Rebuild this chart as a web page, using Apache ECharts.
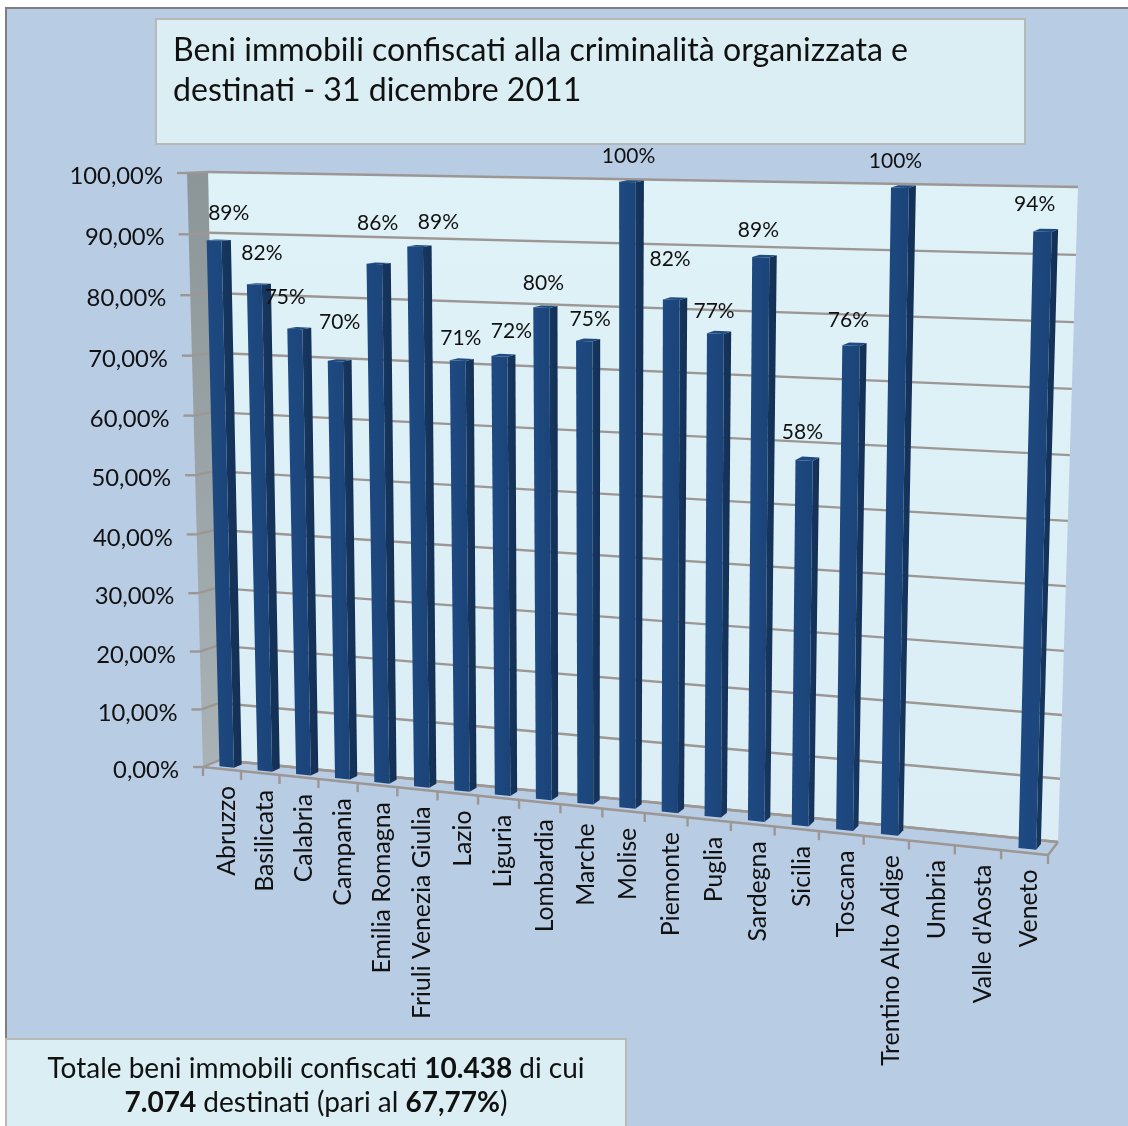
<!DOCTYPE html>
<html><head><meta charset="utf-8">
<script src="https://cdn.jsdelivr.net/npm/echarts@6/dist/echarts.min.js"></script>
<style>html,body{margin:0;padding:0;background:#fff}#c{width:1128px;height:1126px}</style>
</head><body><div id="c"></div>
<script>
const categories = ["Abruzzo","Basilicata","Calabria","Campania","Emilia Romagna","Friuli Venezia Giulia","Lazio","Liguria","Lombardia","Marche","Molise","Piemonte","Puglia","Sardegna","Sicilia","Toscana","Trentino Alto Adige","Umbria","Valle d'Aosta","Veneto"];
const destinati = [89,82,75,70,86,89,71,72,80,75,100,82,77,89,58,76,100,null,null,94];
const yTicks = [0,10,20,30,40,50,60,70,80,90,100];
const yLabels = ["0,00%","10,00%","20,00%","30,00%","40,00%","50,00%","60,00%","70,00%","80,00%","90,00%","100,00%"];
const titleText = "Beni immobili confiscati alla criminalità organizzata e\ndestinati - 31 dicembre 2011";
const noteText = "Totale beni immobili confiscati {b|10.438} di cui\n{b|7.074} destinati (pari al {b|67,77%})";

// hand-placed data-label offsets of the original (dx, dy from the bar top)
const labelNudge = [[10,-27],[3,-31],[-14,-31],[0,-38],[-1,-40],[19,-24],[-1,-21],[8,-24],[-2,-23],[2,-21],[-3,-25],[-5,-39],[-5,-21],[-6,-26],[-5,-27],[-6,-24],[-8,-25],[0,0],[0,0],[-11,-26]];

// perspective frame of the 3-D chart
const BACK  = [[208,172],[1078,187],[1058,842],[220,760]];
const FRONT = [[187,173],[1064,193],[1048,855],[203,767]];
function makeH(q){
  const [x0,y0]=q[0],[x1,y1]=q[1],[x2,y2]=q[2],[x3,y3]=q[3];
  const dx1=x1-x2,dx2=x3-x2,sx=x0-x1+x2-x3,dy1=y1-y2,dy2=y3-y2,sy=y0-y1+y2-y3;
  const den=dx1*dy2-dx2*dy1,g=(sx*dy2-dx2*sy)/den,h=(dx1*sy-sx*dy1)/den;
  return {a:x1-x0+g*x1,b:x3-x0+h*x3,c:x0,d:y1-y0+g*y1,e:y3-y0+h*y3,f:y0,g,h};
}
const HB=makeH(BACK),HF=makeH(FRONT);
function ap(H,s,t){const w=H.g*s+H.h*t+1;return [(H.a*s+H.b*t+H.c)/w,(H.d*s+H.e*t+H.f)/w];}
function P(s,t,depth){const a=ap(HB,s,t),b=ap(HF,s,t);return [a[0]+(b[0]-a[0])*depth,a[1]+(b[1]-a[1])*depth];}
function norm(params,pt){const r=params.coordSys;return [(pt[0]-r.x)/r.width,(pt[1]-r.y)/r.height];}

const LINE='#9c9794', FONT='Lato, "Open Sans", sans-serif';
const poly=(pts,fill,z)=>({type:'polygon',z2:z||0,shape:{points:pts},style:{fill}});
const line=(a,b,color,w,z)=>({type:'line',z2:z||0,shape:{x1:a[0],y1:a[1],x2:b[0],y2:b[1]},style:{stroke:color||LINE,lineWidth:w||2.4}});

function renderWall(params){
  return {type:'group',children:[
    poly(BACK,{type:'linear',x:0,y:0,x2:0,y2:1,colorStops:[{offset:0,color:'#dff2f8'},{offset:1,color:'#dceef5'}]}),
    poly([FRONT[0],BACK[0],BACK[3],FRONT[3]],{type:'linear',x:0,y:0,x2:0,y2:1,colorStops:[{offset:0,color:'#8c9699'},{offset:1,color:'#a9b3b6'}]}),
    line(BACK[3],BACK[2]),line(FRONT[3],FRONT[2]),line(FRONT[2],BACK[2])
  ]};
}
function renderGrid(params,api){
  const c=norm(params,api.coord([0,api.value(0)])),t=c[1];
  const i=params.dataIndex;
  const fl=P(0,t,1),bl=P(0,t,0),br=P(1,t,0);
  return {type:'group',children:[
    line(bl,br),line(fl,bl),line([fl[0]-10,fl[1]],fl),
    {type:'text',x:fl[0]-24,y:fl[1]+3.5,style:{text:yLabels[i],align:'right',verticalAlign:'middle',font:'23.8px '+FONT,fill:'#111'}}
  ]};
}
function renderTicks(params,api){
  const i=api.value(0),c=norm(params,api.coord([i,0])),bw=api.size([1,0])[0]/params.coordSys.width;
  const a=P(c[0]-bw/2,1,1);
  const kids=[line(a,[a[0],a[1]+9])];
  if(i===categories.length-1){const e=P(c[0]+bw/2,1,1);kids.push(line(e,[e[0],e[1]+9]));}
  const m=P(c[0],1,1);
  kids.push({type:'text',x:m[0]+5,y:m[1]+17,rotation:Math.PI/2,style:{text:categories[i],align:'right',verticalAlign:'middle',font:'24.8px '+FONT,fill:'#111'}});
  return {type:'group',children:kids};
}
const BAR_FRAC=0.38,D_FRONT=0.72,D_BACK=0.26;
function renderBar(params,api){
  const v=api.value(1); if(v==null||isNaN(v))return null;
  const i=api.value(0),c=norm(params,api.coord([i,v])),c0=norm(params,api.coord([i,0]));
  const bw=api.size([1,0])[0]/params.coordSys.width*BAR_FRAC;
  const s0=c[0]-bw/2,s1=c[0]+bw/2,t=c[1],b=c0[1];
  const ftl=P(s0,t,D_FRONT),ftr=P(s1,t,D_FRONT),fbr=P(s1,b,D_FRONT),fbl=P(s0,b,D_FRONT);
  const btr=P(s1,t,D_BACK),bbr=P(s1,b,D_BACK),btl=P(s0,t,D_BACK);
  const n=labelNudge[i],tc=[(ftl[0]+btr[0])/2,(ftl[1]+btr[1])/2];
  return {type:'group',children:[
    poly([ftr,btr,bbr,fbr],{type:'linear',x:0,y:0,x2:1,y2:0,colorStops:[{offset:0,color:'#17375f'},{offset:1,color:'#132f54'}]}),
    poly([ftl,ftr,fbr,fbl],{type:'linear',x:0,y:0,x2:1,y2:0,colorStops:[{offset:0,color:'#1e4a82'},{offset:1,color:'#1b4478'}]}),
    poly([ftl,ftr,btr,btl],'#1f4b82'),
    {type:'text',z2:10,x:tc[0]+n[0],y:tc[1]+n[1],style:{text:v+'%',align:'center',verticalAlign:'middle',font:'21px '+FONT,fill:'#111'}}
  ]};
}

const chart=echarts.init(document.getElementById('c'),null,{renderer:'canvas'});
chart.setOption({
  animation:false,
  backgroundColor:'#ffffff',
  title:[
    {text:titleText,left:173,top:31,textStyle:{fontFamily:'Lato',fontWeight:'normal',fontSize:32.1,lineHeight:40,color:'#111'},padding:0},
    {text:noteText,left:316,top:1052,textAlign:'center',textStyle:{fontFamily:'Lato',fontWeight:'normal',fontSize:28,lineHeight:34,color:'#111',
      rich:{b:{fontFamily:'Lato',fontWeight:'bold',fontSize:28,lineHeight:34,color:'#111'}}},padding:0}
  ],
  graphic:[
    {type:'rect',z:-10,shape:{x:6,y:8,width:1130,height:1130},style:{fill:'#b8cce4',stroke:'#7f7f7f',lineWidth:2}},
    {type:'rect',z:-9,shape:{x:156,y:19,width:869,height:125},style:{fill:'#dbeef4',stroke:'#b8b8b4',lineWidth:2}},
    {type:'rect',z:-9,shape:{x:6,y:1039,width:620,height:95},style:{fill:'#dbeef4',stroke:'#b8b8b4',lineWidth:2}}
  ],
  grid:{left:205,top:172,width:850,height:595},
  xAxis:{type:'category',data:categories,show:false},
  yAxis:{type:'value',min:0,max:100,interval:10,show:false},
  series:[
    {type:'custom',name:'wall',silent:true,clip:false,z:1,renderItem:renderWall,data:[[0]],encode:{x:0}},
    {type:'custom',name:'griglia',silent:true,clip:false,z:2,renderItem:renderGrid,data:yTicks.map(v=>[v]),encode:{y:0}},
    {type:'custom',name:'categorie',silent:true,clip:false,z:3,renderItem:renderTicks,data:categories.map((c,i)=>[i]),encode:{x:0}},
    {type:'custom',name:'Destinati',clip:false,z:4,renderItem:renderBar,data:destinati.map((v,i)=>[i,v]),encode:{x:0,y:1}}
  ]
});
</script></body></html>
